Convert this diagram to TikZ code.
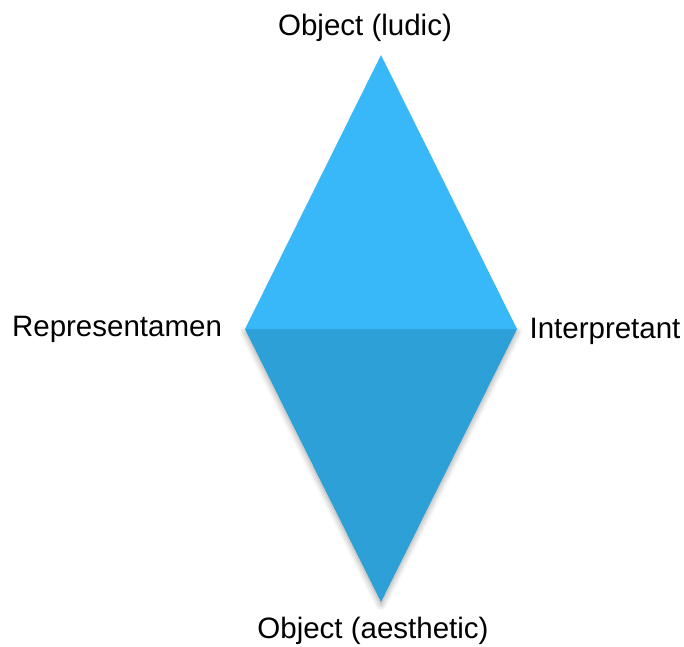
\documentclass[tikz,border=0pt]{standalone}
\usepackage{fontspec}
\setmainfont{Liberation Sans}
\usetikzlibrary{shadows.blur}
\definecolor{toptri}{HTML}{39B8F9}
\definecolor{bottri}{HTML}{2EA0D8}
\tikzset{
  lbl/.style={font=\fontsize{29.5}{33}\selectfont, inner sep=0pt, text=black},
  tri/.style={draw=none}
}
\begin{document}
\begin{tikzpicture}[x=1pt,y=-1pt]
\useasboundingbox (0,0) rectangle (684,646);
\coordinate (T) at (381,55);
\coordinate (L) at (245,329);
\coordinate (R) at (517,329);
\coordinate (B) at (381,602);
\fill[bottri, blur shadow={shadow xshift=0pt, shadow yshift=-3pt, shadow blur steps=8, shadow blur radius=6pt, shadow opacity=35}] (L) -- (R) -- (B) -- cycle;
\fill[toptri] (L) -- (T) -- (R) -- cycle;
\node[lbl] (ol) at (365,28) {Object (ludic)};
\node[lbl] (rep) at (117,329) {Representamen};
\node[lbl] (int) at (605,331) {Interpretant};
\node[lbl] (oa) at (373,631) {Object (aesthetic)};
\end{tikzpicture}
\end{document}
